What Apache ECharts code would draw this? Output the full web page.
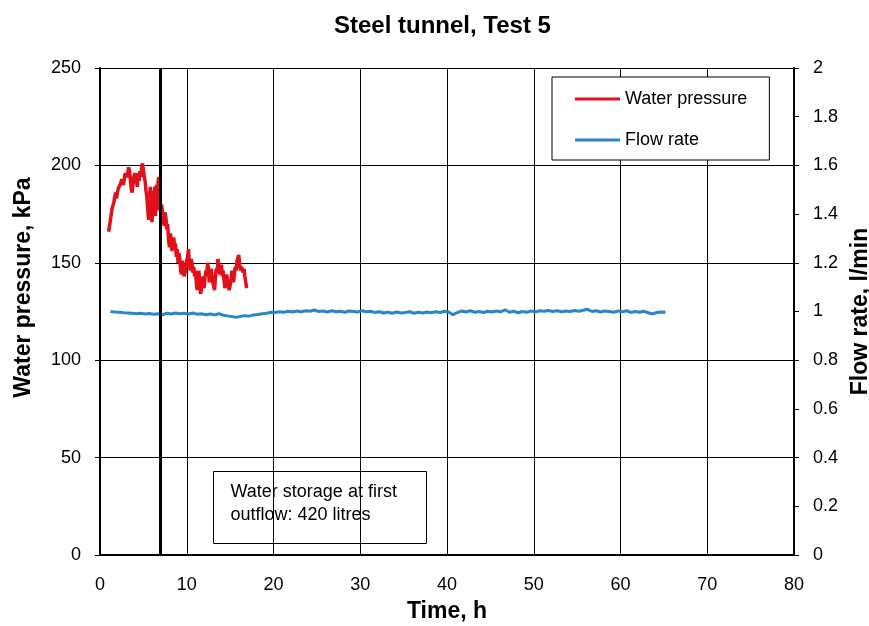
<!DOCTYPE html>
<html>
<head>
<meta charset="utf-8">
<script src="https://cdn.jsdelivr.net/npm/echarts@6/dist/echarts.min.js"></script>
<style>
  html, body { margin: 0; padding: 0; background: #fff; }
  #chart { width: 869px; height: 626px; }
</style>
</head>
<body>
<div id="chart"></div>
<script>
// Water pressure (kPa) logged during the first hours of the test
const pressureHours = [
  1.0, 1.1, 1.2, 1.3, 1.4, 1.5, 1.6, 1.7, 1.8, 1.9,
  2.0, 2.1, 2.2, 2.3, 2.4, 2.5, 2.6, 2.7, 2.8, 2.9,
  3.0, 3.1, 3.2, 3.3, 3.4, 3.5, 3.6, 3.7, 3.8, 3.9,
  4.0, 4.1, 4.2, 4.3, 4.4, 4.5, 4.6, 4.7, 4.8, 4.9,
  5.0, 5.1, 5.2, 5.3, 5.4, 5.5, 5.6, 5.7, 5.8, 5.9,
  6.0, 6.1, 6.2, 6.3, 6.4, 6.5, 6.6, 6.7, 6.8, 6.9,
  7.0, 7.1, 7.2, 7.3, 7.4, 7.5, 7.6, 7.7, 7.8, 7.9,
  8.0, 8.1, 8.2, 8.3, 8.4, 8.5, 8.6, 8.7, 8.8, 8.9,
  9.0, 9.1, 9.2, 9.3, 9.4, 9.5, 9.6, 9.7, 9.8, 9.9,
  10.0, 10.1, 10.2, 10.3, 10.4, 10.5, 10.6, 10.7, 10.8, 10.9,
  11.0, 11.1, 11.2, 11.3, 11.4, 11.5, 11.6, 11.7, 11.8, 11.9,
  12.0, 12.1, 12.2, 12.3, 12.4, 12.5, 12.6, 12.7, 12.8, 12.9,
  13.0, 13.1, 13.2, 13.3, 13.4, 13.5, 13.6, 13.7, 13.8, 13.9,
  14.0, 14.1, 14.2, 14.3, 14.4, 14.5, 14.6, 14.7, 14.8, 14.9,
  15.0, 15.1, 15.2, 15.3, 15.4, 15.5, 15.6, 15.7, 15.8, 15.9,
  16.0, 16.1, 16.2, 16.3, 16.4, 16.5, 16.6, 16.7, 16.8, 16.9
];
const pressureKPa = [
  166, 169, 172, 175, 178, 177, 181, 184, 186, 183,
  186, 188, 189, 187, 191, 193, 194, 190, 193, 196,
  197, 194, 196, 199, 197, 193, 188, 186, 190, 194,
  196, 191, 193, 189, 196, 192, 197, 194, 199, 201,
  198, 194, 192, 187, 184, 178, 172, 183, 189, 174,
  171, 187, 176, 189, 174, 190, 177, 192, 194, 178,
  176, 180, 179, 172, 169, 176, 173, 167, 170, 162,
  158, 165, 163, 156, 159, 163, 158, 160, 153, 157,
  150, 155, 152, 146, 144, 151, 149, 143, 142, 147,
  151, 153, 157, 149, 146, 152, 150, 145, 148, 143,
  146, 140, 136, 142, 146, 139, 134, 137, 143, 140,
  137, 142, 146, 144, 150, 147, 140, 143, 147, 144,
  140, 138, 136, 142, 147, 145, 152, 153, 144, 147,
  149, 143, 146, 141, 137, 140, 144, 141, 138, 136,
  135, 141, 146, 143, 140, 145, 148, 146, 151, 150,
  154, 149, 146, 148, 149, 145, 147, 143, 140, 137
];

// Flow rate (l/min) over the whole test
const flowHours = [
  1.2, 1.7, 2.2, 2.7, 3.2, 3.7, 4.2, 4.7, 5.2, 5.7,
  6.2, 6.7, 7.2, 7.7, 8.2, 8.7, 9.2, 9.7, 10.2, 10.7,
  11.2, 11.7, 12.2, 12.7, 13.2, 13.7, 14.2, 14.7, 15.2, 15.7,
  16.2, 16.7, 17.2, 17.7, 18.2, 18.7, 19.2, 19.7, 20.2, 20.7,
  21.2, 21.7, 22.2, 22.7, 23.2, 23.7, 24.2, 24.7, 25.2, 25.7,
  26.2, 26.7, 27.2, 27.7, 28.2, 28.7, 29.2, 29.7, 30.2, 30.7,
  31.2, 31.7, 32.2, 32.7, 33.2, 33.7, 34.2, 34.7, 35.2, 35.7,
  36.2, 36.7, 37.2, 37.7, 38.2, 38.7, 39.2, 39.7, 40.2, 40.7,
  41.2, 41.7, 42.2, 42.7, 43.2, 43.7, 44.2, 44.7, 45.2, 45.7,
  46.2, 46.7, 47.2, 47.7, 48.2, 48.7, 49.2, 49.7, 50.2, 50.7,
  51.2, 51.7, 52.2, 52.7, 53.2, 53.7, 54.2, 54.7, 55.2, 55.7,
  56.2, 56.7, 57.2, 57.7, 58.2, 58.7, 59.2, 59.7, 60.2, 60.7,
  61.2, 61.7, 62.2, 62.7, 63.2, 63.7, 64.2, 64.7, 65.2
];
const flowRate = [
  1.000, 0.998, 0.997, 0.995, 0.994, 0.993, 0.991, 0.993, 0.990, 0.992,
  0.989, 0.991, 0.986, 0.993, 0.990, 0.994, 0.991, 0.993, 0.990, 0.994,
  0.989, 0.991, 0.987, 0.990, 0.986, 0.991, 0.985, 0.982, 0.979, 0.976,
  0.980, 0.983, 0.981, 0.986, 0.988, 0.991, 0.993, 0.997, 0.996, 0.999,
  0.997, 1.001, 0.998, 1.002, 0.999, 1.003, 1.001, 1.006, 1.000, 1.002,
  0.998, 1.003, 0.999, 1.001, 0.997, 1.002, 1.000, 0.998, 1.003, 0.999,
  1.001, 0.996, 0.999, 0.994, 0.997, 0.993, 0.998, 0.994, 0.996, 0.999,
  0.993, 0.997, 0.994, 0.998, 0.995, 0.999, 0.996, 1.001, 0.998, 0.987,
  0.996, 1.002, 0.998, 1.003, 0.997, 1.000, 0.996, 1.001, 0.998, 1.002,
  0.999, 1.007, 0.997, 1.001, 0.995, 1.000, 0.997, 1.002, 0.999, 1.003,
  1.001, 1.004, 1.000, 1.003, 0.999, 1.002, 1.000, 1.004, 1.001, 1.005,
  1.009, 1.000, 1.003, 0.998, 1.002, 1.000, 0.997, 1.002, 0.999, 1.003,
  0.996, 1.000, 0.997, 1.001, 0.995, 0.990, 0.996, 0.998, 0.997
];

// Time of first outflow (h)
const firstOutflowHour = 7;

const xTicks = [0, 80, 10];          // min, max, step (h)
const pressureTicks = [0, 250, 50];  // min, max, step (kPa)
const flowTicks = [0, 2, 0.2];       // min, max, step (l/min)

const FONT = "'Liberation Sans', Arial, sans-serif";

const zip = (xs, ys) => xs.map((x, i) => [x, ys[i]]);

const chart = echarts.init(document.getElementById('chart'), null, { renderer: 'canvas' });

chart.setOption({
  animation: false,
  backgroundColor: '#fff',
  textStyle: { fontFamily: FONT, color: '#000' },
  title: {
    text: 'Steel tunnel, Test 5',
    left: 334,
    top: 14,
    padding: 0,
    textStyle: { fontFamily: FONT, fontSize: 24, fontWeight: 'bold', color: '#000' }
  },
  grid: {
    left: 100, right: 75, top: 68, bottom: 71,
    containLabel: false,
    outerBoundsMode: 'none'
  },
  legend: {
    orient: 'vertical',
    left: 552,
    top: 77,
    padding: [12, 22, 10, 23],
    itemGap: 21,
    itemWidth: 45,
    itemHeight: 3,
    icon: 'rect',
    backgroundColor: '#fff',
    borderColor: '#000',
    borderWidth: 1,
    textStyle: { fontFamily: FONT, fontSize: 18, lineHeight: 20, color: '#000' },
    data: ['Water pressure', 'Flow rate']
  },
  xAxis: {
    type: 'value',
    min: xTicks[0], max: xTicks[1], interval: xTicks[2],
    name: 'Time, h',
    nameLocation: 'middle',
    nameGap: 45,
    nameTextStyle: { fontFamily: FONT, fontSize: 23, fontWeight: 'bold', color: '#000' },
    axisLine: { lineStyle: { color: '#000', width: 2 } },
    axisTick: { show: false },
    axisLabel: { fontFamily: FONT, fontSize: 18, color: '#000', margin: 21 },
    splitLine: { show: true, lineStyle: { color: '#000', width: 1 } }
  },
  yAxis: [
    {
      type: 'value',
      position: 'left',
      min: pressureTicks[0], max: pressureTicks[1], interval: pressureTicks[2],
      name: 'Water pressure, kPa',
      nameLocation: 'middle',
      nameRotate: 90,
      nameGap: 65,
      nameTextStyle: { fontFamily: FONT, fontSize: 23, fontWeight: 'bold', color: '#000', padding: [0, 0, 0, 48] },
      axisLine: { show: true, lineStyle: { color: '#000', width: 2 } },
      axisTick: { show: true, inside: false, length: 5, lineStyle: { color: '#000' } },
      axisLabel: { fontFamily: FONT, fontSize: 18, color: '#000', margin: 19 },
      splitLine: { show: true, lineStyle: { color: '#000', width: 1 } }
    },
    {
      type: 'value',
      position: 'right',
      min: flowTicks[0], max: flowTicks[1], interval: flowTicks[2],
      name: 'Flow rate, l/min',
      nameLocation: 'middle',
      nameRotate: 90,
      nameGap: 51,
      nameTextStyle: { fontFamily: FONT, fontSize: 23, fontWeight: 'bold', color: '#000' },
      axisLine: { show: true, lineStyle: { color: '#000', width: 2 } },
      axisTick: { show: true, inside: false, length: 5, lineStyle: { color: '#000' } },
      axisLabel: { fontFamily: FONT, fontSize: 18, color: '#000', margin: 19 },
      splitLine: { show: false }
    }
  ],
  series: [
    {
      name: 'Flow rate',
      type: 'line',
      yAxisIndex: 1,
      data: zip(flowHours, flowRate),
      showSymbol: false,
      symbol: 'none',
      lineStyle: { color: '#2A86C8', width: 3 },
      itemStyle: { color: '#2A86C8' },
      z: 3
    },
    {
      name: 'Water pressure',
      type: 'line',
      yAxisIndex: 0,
      data: zip(pressureHours, pressureKPa),
      showSymbol: false,
      symbol: 'none',
      lineStyle: { color: '#E2101A', width: 3.5 },
      itemStyle: { color: '#E2101A' },
      z: 3,
      markLine: {
        silent: true,
        symbol: ['none', 'none'],
        label: { show: false },
        lineStyle: { color: '#000', width: 3, type: 'solid' },
        data: [{ xAxis: firstOutflowHour }],
        z: 5
      }
    }
  ],
  graphic: [
    {
      type: 'group',
      left: 213,
      top: 471,
      z: 100,
      children: [
        {
          type: 'rect',
          shape: { x: 0, y: 0, width: 213, height: 72 },
          style: { fill: '#fff', stroke: '#000', lineWidth: 1 }
        },
        {
          type: 'text',
          x: 17,
          y: 9,
          style: {
            text: 'Water storage at first\noutflow: 420 litres',
            fontFamily: FONT,
            fontSize: 18,
            lineHeight: 23,
            fill: '#000'
          }
        }
      ]
    }
  ]
});
</script>
</body>
</html>
